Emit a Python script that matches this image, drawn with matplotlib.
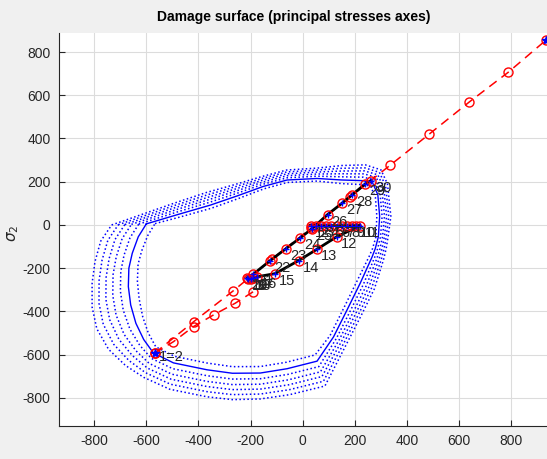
import numpy as np
import matplotlib
matplotlib.use('Agg')
import matplotlib.pyplot as plt

# initial damage surface (solid)
base_s1 = [-600, -480, -354, -250, -152, -60, 55, 150, 230, 268, 288, 295, 290, 278, 266,
           221, 170, 118, 55, -60, -163, -270, -367, -496, -573, -610, -640, -660, -669,
           -667, -654, -631, -600]
base_s2 = [5, 48, 92, 135, 178, 208, 215, 208, 205, 195, 140, 40, -55, -110, -148,
           -268, -393, -518, -630, -665, -685, -686, -670, -638, -592, -530, -455, -370, -285,
           -200, -131, -55, 5]
# outermost evolved surface (dotted), same vertices pushed outwards
outer_s1 = [-733, -495, -370, -260, -160, -62, 55, 150, 240, 300, 325, 338, 328, 320, 310,
            275, 222, 170, 85, -50, -163, -270, -367, -510, -610, -680, -745, -790, -808,
            -808, -797, -775, -733]
outer_s2 = [0, 100, 150, 187, 223, 254, 263, 275, 278, 255, 190, 40, -50, -110, -160,
            -295, -424, -546, -745, -785, -805, -808, -795, -760, -705, -650, -575, -480, -380,
            -270, -170, -75, 0]
# position of each dotted surface between the solid one (0) and the outermost (1)
surf_levels = [-0.25, 0.22, 0.43, 0.62, 0.81, 1.0]

# proportional load line (red dashed with circles)
line_s1 = [-568, -418, -268, -118, 32, 182, 336, 486, 639, 789, 933]
line_s2 = [-593, -447, -306, -158, -15, 130, 277, 421, 569, 707, 855]
line2_s1 = [-568, -496, -419, -342, -259, -189]
line2_s2 = [-593, -540, -470, -416, -362, -308]

# cyclic stress path (black), points 1..30
path_s1 = [30, 50, 70, 90, 110, 130, 150, 170, 190, 205, 221,
           131, 55, -16, -106, -176, -190, -200, -210, -215,
           -190, -125, -65, -10, 35, 95, 150, 190, 240, 262]
path_s2 = [-3, -3, -3, -3, -3, -3, -3, -3, -3, -3, -3,
           -54, -112, -165, -225, -240, -245, -250, -250, -245,
           -228, -165, -110, -60, -18, 48, 100, 140, 190, 205]
path_labels = [str(i) for i in range(1, 31)]

plt.rcParams['font.family'] = ['Liberation Sans', 'DejaVu Sans']
plt.rcParams['axes.unicode_minus'] = False

fig = plt.figure(figsize=(5.47, 4.59), dpi=100, facecolor='#f0f0f0')
ax = fig.add_axes([59 / 547, 33 / 459, 494 / 547, 393 / 459])

bx = np.array(base_s1, dtype=float)
by = np.array(base_s2, dtype=float)
ox = np.array(outer_s1, dtype=float)
oy = np.array(outer_s2, dtype=float)
for t in surf_levels:
    ax.plot(bx + t * (ox - bx), by + t * (oy - by),
            color='blue', linestyle=(0, (1, 1.6)), linewidth=1.1)
ax.plot(bx, by, color='blue', linewidth=1.0)

ax.plot(line_s1, line_s2, 'r--o', markersize=6.5, markerfacecolor='none', linewidth=1.1, dashes=(6, 4))
ax.plot(line2_s1, line2_s2, 'r--o', markersize=6.5, markerfacecolor='none', linewidth=1.1, dashes=(6, 4))
ax.plot([line_s1[0], line_s1[-1]], [line_s2[0], line_s2[-1]], 'b*', markersize=6)

ax.plot(path_s1, path_s2, color='black', linewidth=2.0)
ax.plot(path_s1, path_s2, 'ro', markersize=6.5, markerfacecolor='none')
ax.plot(path_s1, path_s2, 'b+', markersize=4)
for x, y, t in zip(path_s1, path_s2, path_labels):
    ax.annotate(t, (x, y), xytext=(3, -5), textcoords='offset points', fontsize=10.5,
                color='#262626', va='center')
ax.annotate('1=2', (line_s1[0], line_s2[0]), xytext=(3, -3), textcoords='offset points',
            fontsize=10.5, color='#262626', va='center')

ax.set_xlim(-935, 960)
ax.set_ylim(-930, 888)
ax.set_xticks(np.arange(-800, 801, 200))
ax.set_yticks(np.arange(-800, 801, 200))
ax.grid(True, color='#dcdcdc', linewidth=0.8)
ax.set_axisbelow(True)
for side in ['top', 'right']:
    ax.spines[side].set_visible(False)
for side in ['left', 'bottom']:
    ax.spines[side].set_color('#262626')
    ax.spines[side].set_linewidth(0.8)
ax.tick_params(direction='in', length=4, labelsize=10, colors='#262626', pad=6)

fig.text(294 / 547, 1 - 17 / 459, 'Damage surface (principal stresses axes)', ha='center', va='center',
         fontsize=10, fontweight='bold', color='black')
fig.text(13 / 547, 1 - 233 / 459, r'$\sigma_2$', rotation=90, ha='center', va='center', fontsize=11,
         color='#262626')

fig.savefig('out.png', dpi=100, facecolor=fig.get_facecolor())
